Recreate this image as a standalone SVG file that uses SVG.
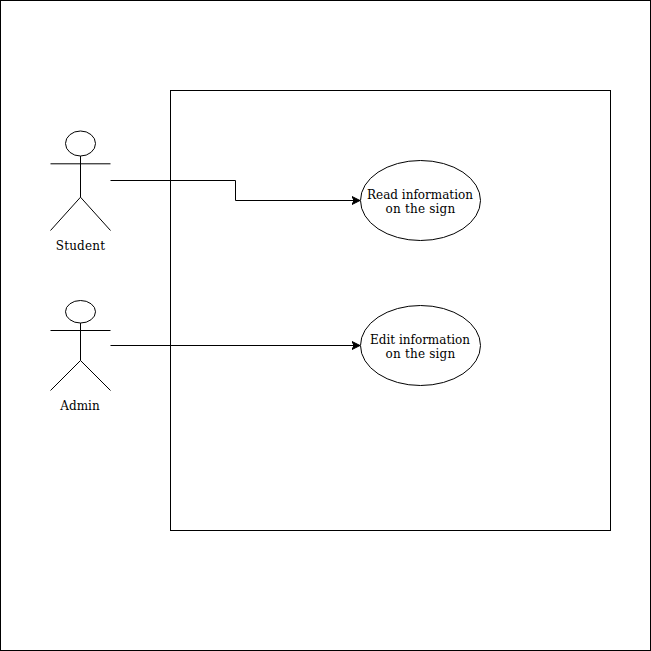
<svg xmlns="http://www.w3.org/2000/svg" width="651" height="651" viewBox="0 0 651 651">
<style>
.s{fill:none;stroke:#000;stroke-width:1}
.n{fill:#fff;stroke:#000;stroke-width:1}
text{font-family:"DejaVu Serif",serif;font-size:12px;fill:#000;text-anchor:middle}
.w{letter-spacing:.2px}
</style>
<defs>
<marker id="a" markerUnits="userSpaceOnUse" markerWidth="10" markerHeight="10" refX="8" refY="4.5" orient="auto"><path d="M0 0.5L8 4.5L0 8.5L2 4.5Z" fill="#000" stroke="#000"/></marker>
</defs>
<rect width="651" height="651" fill="#fff"/>
<g id="frame"><rect class="s" x="0.5" y="0.5" width="650" height="650"/></g>
<g id="system"><rect class="s" x="170.5" y="90.5" width="440" height="440"/></g>
<g id="connectors">
<path class="s" marker-end="url(#a)" d="M110.5 180.5H235.5V200.5H360"/>
<path class="s" marker-end="url(#a)" d="M110.5 345.5H360"/>
</g>
<g id="student"><ellipse class="n" cx="80.5" cy="143.5" rx="15" ry="12.5"/><path class="s" d="M80.5 156V197.2M50.5 163.8H110.5M50.5 230.5L80.5 197.2L110.5 230.5"/><text class="w" x="80.5" y="250">Student</text></g>
<g id="admin"><ellipse class="n" cx="80.5" cy="311.75" rx="15" ry="11.25"/><path class="s" d="M80.5 323V360.5M50.5 330.5H110.5M50.5 390.5L80.5 360.5L110.5 390.5"/><text x="80" y="410">Admin</text></g>
<g id="read"><ellipse class="n" cx="420.5" cy="200.5" rx="60" ry="40"/><text x="420" y="199">Read information</text><text class="w" x="420.5" y="213">on the sign</text></g>
<g id="edit"><ellipse class="n" cx="420.5" cy="345.5" rx="60" ry="40"/><text x="420" y="344">Edit information</text><text class="w" x="420.5" y="358">on the sign</text></g>
</svg>
